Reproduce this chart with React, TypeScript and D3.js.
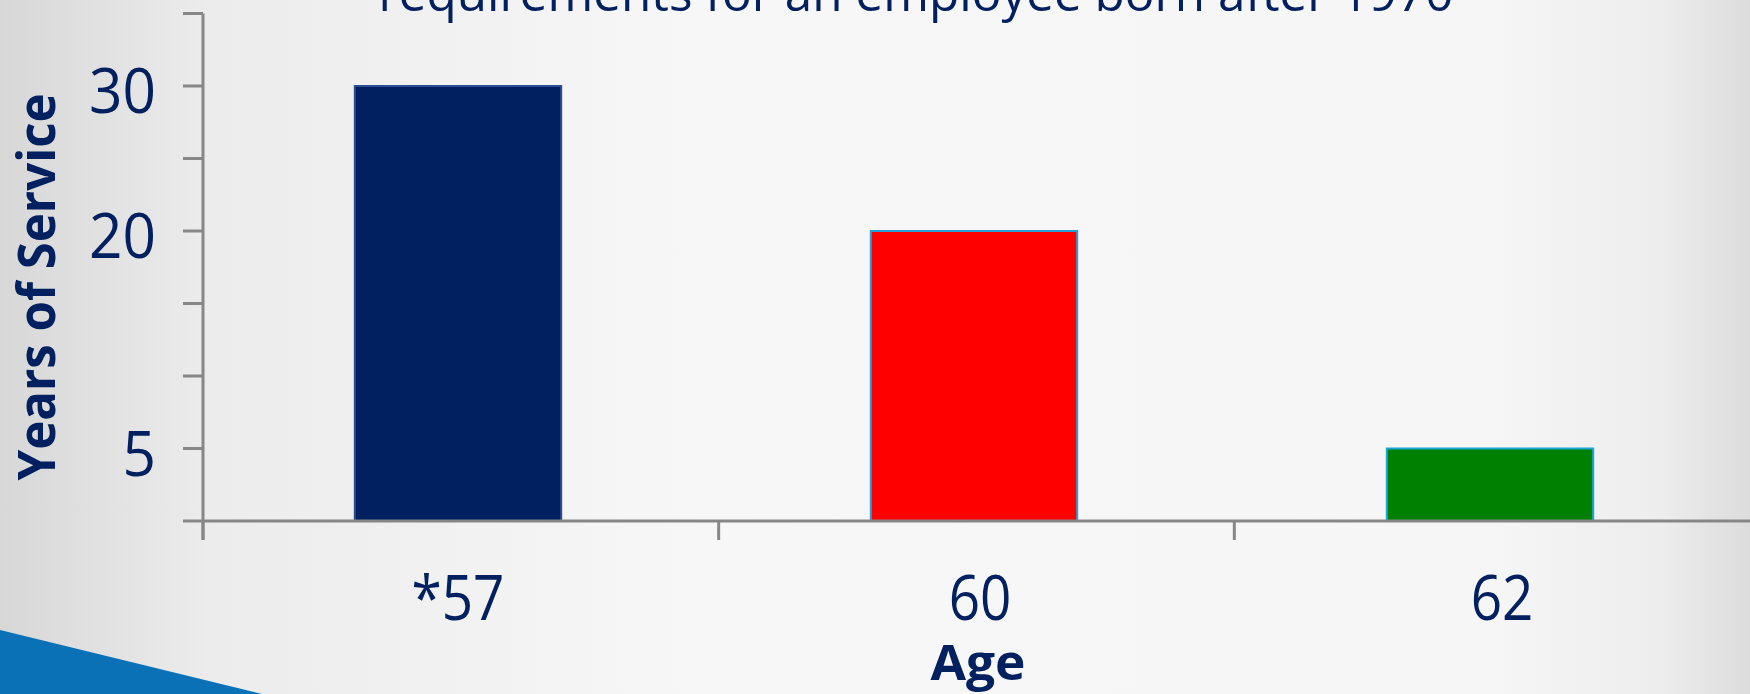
import React from "react";
import * as d3 from "d3";

const categories = ["*57", "60", "62"];
const yearsOfService = [30, 20, 5];
const barColors = ["#002060", "#ff0000", "#008000"];
const barStrokes = ["#2f4d94", "#2a9fd6", "#1ca6d8"];
const yTickValues = [0, 5, 10, 15, 20, 25, 30, 35];
const yTickLabels = [5, 20, 30];
const titleText = "requirements for an employee born after 1970";
const xTitle = "Age";
const yTitle = "Years of Service";

const W = 1750;
const H = 694;
const TEXT = "#002060";
const AXIS = "#878787";
const FONT = "'Open Sans', 'Noto Sans', sans-serif";

export default function App() {
  const x = d3
    .scaleBand<string>()
    .domain(categories)
    .range([200, 1748])
    .paddingInner(0.6)
    .paddingOuter(0.3);
  const xCell = d3.scaleBand<string>().domain(categories).range([203, 1750]).padding(0);
  const xLabel = d3.scaleBand<string>().domain(categories).range([197, 1763]).padding(0);
  const y = d3.scaleLinear().domain([0, 35]).range([521, 13.5]);

  return (
    <div style={{ width: W, height: H, overflow: "hidden" }}>
      <style>{`body{margin:0;}`}</style>
      <svg width={W} height={H} viewBox={`0 0 ${W} ${H}`} style={{ display: "block" }}>
        <defs>
          <linearGradient id="bg" x1="0" y1="0" x2="1" y2="0">
            <stop offset="0" stopColor="#d7d7d7" />
            <stop offset="0.12" stopColor="#ececec" />
            <stop offset="0.4" stopColor="#f7f7f7" />
            <stop offset="0.85" stopColor="#f6f6f6" />
            <stop offset="0.95" stopColor="#ededed" />
            <stop offset="1" stopColor="#dcdcdc" />
          </linearGradient>
        </defs>
        <rect x={0} y={0} width={W} height={H} fill="url(#bg)" />
        <polygon points={`0,630 262,694 0,694`} fill="#0a71b6" />

        {/* title (cut off at top) */}
        <text
          x={916}
          y={11}
          textAnchor="middle"
          fontFamily={FONT}
          fontSize={50}
          fill={TEXT}
          textLength={1075}
          lengthAdjust="spacingAndGlyphs"
        >
          {titleText}
        </text>

        {/* bars */}
        {categories.map((c, i) => (
          <rect
            key={c}
            x={x(c) as number}
            y={y(yearsOfService[i])}
            width={x.bandwidth()}
            height={y(0) - y(yearsOfService[i])}
            fill={barColors[i]}
            stroke={barStrokes[i]}
            strokeWidth={2}
          />
        ))}

        {/* y axis */}
        <line x1={203} x2={203} y1={y(35)} y2={540} stroke={AXIS} strokeWidth={3} />
        {yTickValues.map((v) => (
          <line key={v} x1={183} x2={203} y1={y(v)} y2={y(v)} stroke={AXIS} strokeWidth={3} />
        ))}
        {yTickLabels.map((v) => (
          <text
            key={v}
            transform={`translate(156,${y(v) + 27}) scale(0.93,1)`}
            textAnchor="end"
            fontFamily={FONT}
            fontSize={63}
            fill={TEXT}
          >
            {v}
          </text>
        ))}

        {/* x axis */}
        <line x1={203} x2={W} y1={y(0)} y2={y(0)} stroke={AXIS} strokeWidth={3} />
        {categories.map((c) => (
          <line
            key={c}
            x1={xCell(c) as number}
            x2={xCell(c) as number}
            y1={y(0)}
            y2={540}
            stroke={AXIS}
            strokeWidth={3}
          />
        ))}
        {categories.map((c) => (
          <text
            key={c}
            transform={`translate(${(xLabel(c) as number) + xLabel.bandwidth() / 2},620) scale(0.87,1)`}
            textAnchor="middle"
            fontFamily={FONT}
            fontSize={63}
            fill={TEXT}
          >
            {c}
          </text>
        ))}

        {/* axis titles */}
        <text
          x={978}
          y={680}
          textAnchor="middle"
          fontFamily={FONT}
          fontWeight={700}
          fontSize={48}
          fill={TEXT}
          textLength={95}
          lengthAdjust="spacingAndGlyphs"
        >
          {xTitle}
        </text>
        <text
          transform={`translate(55,287) rotate(-90)`}
          textAnchor="middle"
          fontFamily={FONT}
          fontWeight={700}
          fontSize={52}
          fill={TEXT}
          textLength={387}
          lengthAdjust="spacingAndGlyphs"
        >
          {yTitle}
        </text>
      </svg>
    </div>
  );
}
